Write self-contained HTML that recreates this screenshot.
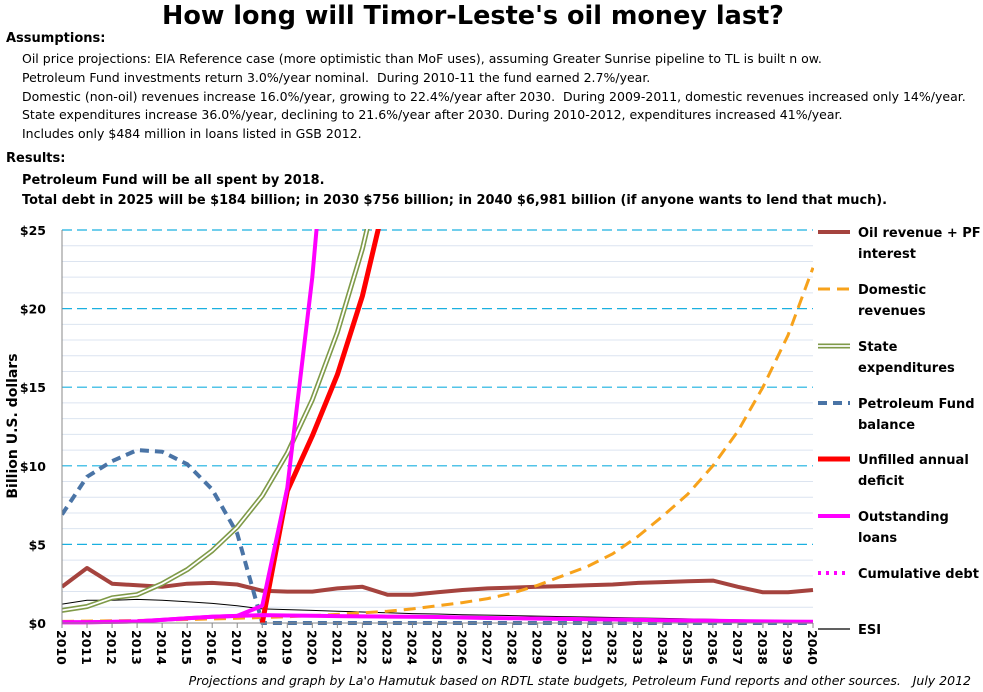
<!DOCTYPE html>
<html><head><meta charset="utf-8">
<style>
body{margin:0;background:#fff;font-family:"DejaVu Sans",sans-serif;}
#wrap{position:relative;width:983px;height:692px;overflow:hidden;}
.t{position:absolute;white-space:nowrap;color:#000;}
</style></head>
<body>
<div id="wrap">
<div class="t" style="left:0;width:946px;text-align:center;top:1px;font-size:25.5px;font-weight:bold;">How long will Timor-Leste's oil money last?</div>
<div class="t" style="left:6px;top:31px;font-size:13px;font-weight:bold;">Assumptions:</div>
<div class="t" style="left:22px;top:51px;font-size:12.5px;">Oil price projections: EIA Reference case (more optimistic than MoF uses), assuming Greater Sunrise pipeline to TL is built n ow.</div>
<div class="t" style="left:22px;top:70px;font-size:12.5px;">Petroleum Fund investments return 3.0%/year nominal.&nbsp; During 2010-11 the fund earned 2.7%/year.</div>
<div class="t" style="left:22px;top:89px;font-size:12.5px;">Domestic (non-oil) revenues increase 16.0%/year, growing to 22.4%/year after 2030.&nbsp; During 2009-2011, domestic revenues increased only 14%/year.</div>
<div class="t" style="left:22px;top:107px;font-size:12.5px;">State expenditures increase 36.0%/year, declining to 21.6%/year after 2030. During 2010-2012, expenditures increased 41%/year.</div>
<div class="t" style="left:22px;top:126px;font-size:12.5px;">Includes only $484 million in loans listed in GSB 2012.</div>
<div class="t" style="left:6px;top:151px;font-size:13px;font-weight:bold;">Results:</div>
<div class="t" style="left:22px;top:173px;font-size:12.9px;font-weight:bold;">Petroleum Fund will be all spent by 2018.</div>
<div class="t" style="left:22px;top:193px;font-size:12.9px;font-weight:bold;">Total debt in 2025 will be $184 billion; in 2030 $756 billion; in 2040 $6,981 billion (if anyone wants to lend that much).</div>
<div class="t" style="right:12px;top:673px;font-size:12.5px;font-style:italic;">Projections and graph by La'o Hamutuk based on RDTL state budgets, Petroleum Fund reports and other sources.&nbsp;&nbsp; July 2012</div>
<svg id="chart" width="983" height="692" style="position:absolute;left:0;top:0;">
<defs><clipPath id="clip"><rect x="62" y="229" width="752" height="400"/></clipPath></defs>
<g id="grid"></g><g id="series" clip-path="url(#clip)"></g><g id="axes"></g><g id="legend"></g>
</svg>
</div>
<script>
const years = [2010,2011,2012,2013,2014,2015,2016,2017,2018,2019,2020,2021,2022,2023,2024,2025,2026,2027,2028,2029,2030,2031,2032,2033,2034,2035,2036,2037,2038,2039,2040];
const yTicks = [0,5,10,15,20,25];
const oilRevenue = [2.3,3.5,2.5,2.4,2.3,2.5,2.55,2.45,2.05,2.0,2.0,2.2,2.3,1.8,1.8,1.95,2.1,2.2,2.25,2.3,2.35,2.4,2.45,2.55,2.6,2.65,2.7,2.3,1.95,1.95,2.1];
const domesticRevenue = [0.1,0.12,0.14,0.16,0.19,0.22,0.26,0.3,0.35,0.4,0.47,0.55,0.65,0.75,0.9,1.1,1.3,1.55,1.9,2.4,3.0,3.6,4.4,5.5,6.8,8.2,10.0,12.2,15.0,18.3,22.6];
const stateExpenditures = [0.8,1.05,1.6,1.8,2.5,3.4,4.6,6.1,8.1,10.8,14.2,18.5,23.8,30.5,39,50,64,82,105,134,172,220,281,360,460,590,755,966,1236,1582,2025];
const pfBalance = [6.9,9.3,10.3,11.0,10.9,10.1,8.5,5.7,0,0,0,0,0,0,0,0,0,0,0,0,0,0,0,0,0,0,0,0,0,0,0];
const unfilledDeficit = [null,null,null,null,null,null,null,null,0,8.4,11.9,15.8,20.8,27.5,36,46,58,74,94,120,152,195,250,320,410,525,670,860,1100,1400,1790];
const outstandingLoans = [0.05,0.05,0.07,0.1,0.2,0.3,0.4,0.45,0.5,0.48,0.46,0.44,0.42,0.41,0.4,0.38,0.35,0.32,0.3,0.28,0.26,0.24,0.22,0.2,0.18,0.16,0.14,0.12,0.1,0.09,0.08];
const cumulativeDebt = [0.05,0.05,0.07,0.1,0.2,0.3,0.4,0.45,1.1,8.6,22,40,61,90,125,184,240,310,400,560,756,900,1100,1400,1700,2100,2600,3200,4000,5500,6981];
const esi = [1.2,1.45,1.45,1.5,1.45,1.35,1.25,1.1,0.9,0.85,0.8,0.75,0.7,0.65,0.6,0.57,0.53,0.5,0.47,0.44,0.41,0.38,0.35,0.32,0.29,0.26,0.23,0.2,0.18,0.15,0.13];

const NS='http://www.w3.org/2000/svg';
const FF='DejaVu Sans, sans-serif';
const X0=62,X1=813,Y0=623,Y1=230,YMAX=25;
function xs(i){return X0+(X1-X0)*i/(years.length-1);}
function ys(v){return Y0-(Y0-Y1)*v/YMAX;}
function mk(tag,attrs,parent){const e=document.createElementNS(NS,tag);for(const k in attrs)e.setAttribute(k,attrs[k]);parent.appendChild(e);return e;}
const grid=document.getElementById('grid'),series=document.getElementById('series'),axes=document.getElementById('axes'),legend=document.getElementById('legend');
for(let v=1;v<=YMAX;v++){
  if(v%5===0)continue;
  const l=mk('line',{x1:X0,x2:X1,y1:ys(v),y2:ys(v),stroke:'#dce4f0','stroke-width':1},grid);
  
  
}
yTicks.forEach(v=>{
  if(v>0){const l=mk('line',{x1:X0,x2:X1,y1:ys(v),y2:ys(v),stroke:'#1ab0e0','stroke-width':1.2,'stroke-dasharray':'10,5'},grid);
  
  }
  const t=mk('text',{x:46,y:ys(v)+5,'text-anchor':'end','font-size':12.5,'font-weight':'bold','font-family':FF},axes);
  t.textContent='$'+v;
  
  
});
const ya=mk('line',{x1:X0,x2:X0,y1:Y1,y2:Y0,stroke:'#888','stroke-width':1},axes);


const xa=mk('line',{x1:X0,x2:X1,y1:Y0,y2:Y0,stroke:'#888','stroke-width':1},axes);


const yt=mk('text',{x:0,y:0,transform:'translate(17,426) rotate(-90)','text-anchor':'middle','font-size':14,'font-weight':'bold','font-family':FF},axes);
yt.textContent='Billion U.S. dollars';


years.forEach((yr,i)=>{
  const tk=mk('line',{x1:xs(i),x2:xs(i),y1:Y0,y2:Y0+5,stroke:'#888'},axes);
  
  
  const t=mk('text',{x:0,y:0,transform:`translate(${xs(i)-5},${Y0+7}) rotate(90)`,'font-size':12.5,'font-weight':'bold','font-family':FF},axes);
  t.textContent=yr;
  
  
});
function path(arr){let d='',pen=false;arr.forEach((v,i)=>{if(v===null){pen=false;return;}d+=(pen?'L':'M')+xs(i).toFixed(1)+','+ys(v).toFixed(1);pen=true;});return d;}
function line(arr,attrs,name){const p=mk('path',Object.assign({d:path(arr),fill:'none','stroke-linejoin':'round'},attrs),series);return p;}
line(esi,{stroke:'#000','stroke-width':1},'esi-line');
line(oilRevenue,{stroke:'#a5433e','stroke-width':4},'oil-revenue-line');
line(domesticRevenue,{stroke:'#f7a21b','stroke-width':3,'stroke-dasharray':'12,7'},'domestic-revenues-line');
line(stateExpenditures,{stroke:'#7f9a48','stroke-width':5},'state-expenditures-line');
line(stateExpenditures,{stroke:'#fff','stroke-width':1.8},'state-expenditures-inner');
line(pfBalance,{stroke:'#4a74a6','stroke-width':4,'stroke-dasharray':'9,6'},'pf-balance-line');
line(unfilledDeficit,{stroke:'#ff0000','stroke-width':5},'unfilled-deficit-line');
line(outstandingLoans,{stroke:'#ff00ff','stroke-width':4},'outstanding-loans-line');
line(cumulativeDebt,{stroke:'#ff00ff','stroke-width':4},'cumulative-debt-line');
const legs=[
 ['Oil revenue + PF','interest',{stroke:'#a5433e','stroke-width':4},242],
 ['Domestic','revenues',{stroke:'#f7a21b','stroke-width':3,'stroke-dasharray':'12,7'},299],
 ['State','expenditures',{stroke:'#7f9a48','stroke-width':5},356],
 ['Petroleum Fund','balance',{stroke:'#4a74a6','stroke-width':4,'stroke-dasharray':'9,6'},413],
 ['Unfilled annual','deficit',{stroke:'#ff0000','stroke-width':5},469],
 ['Outstanding','loans',{stroke:'#ff00ff','stroke-width':4},526],
 ['Cumulative debt','',{stroke:'#ff00ff','stroke-width':4,'stroke-dasharray':'3,5'},573],
 ['ESI','',{stroke:'#000','stroke-width':1.2},629]];
legs.forEach(([a,b,st,y])=>{
  const two=b!=='';
  const ly=two?y-10:y;
  const l=mk('line',Object.assign({x1:818,x2:850,y1:ly,y2:ly},st),legend);
  
  
  if(a==='State'){const w=mk('line',{x1:818,x2:850,y1:ly,y2:ly,stroke:'#fff','stroke-width':1.8},legend);}
  const t=mk('text',{x:858,y:two?y-5:y+5,'font-size':13,'font-weight':'bold','font-family':FF},legend);
  t.textContent=a;
  
  
  if(two){const t2=mk('text',{x:858,y:y+16,'font-size':13,'font-weight':'bold','font-family':FF},legend);t2.textContent=b;}
});
</script>
</body></html>
